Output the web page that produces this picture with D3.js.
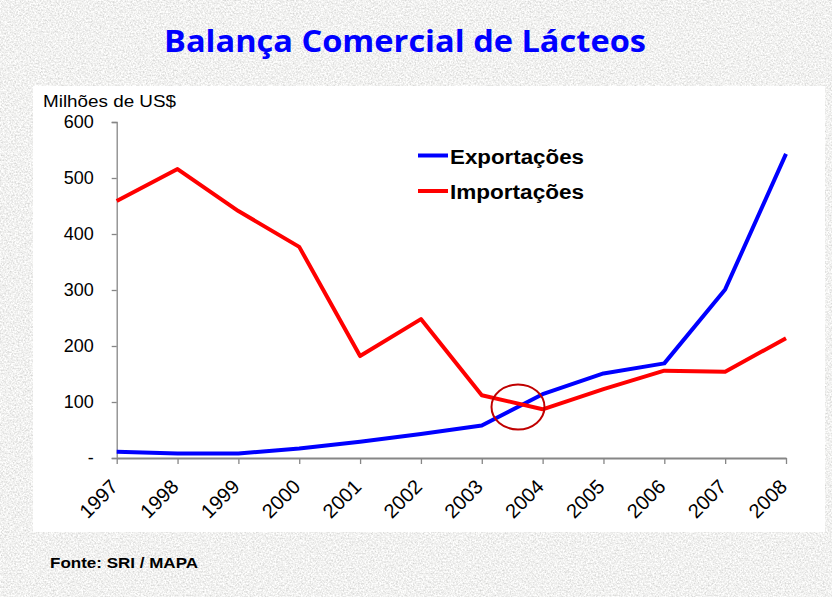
<!DOCTYPE html>
<html><head><meta charset="utf-8">
<script src="https://cdn.jsdelivr.net/npm/d3@7"></script>
<style>html,body{margin:0;padding:0;background:#dcdcda;}svg{display:block;}</style>
</head><body>
<script>
const years = ["1997","1998","1999","2000","2001","2002","2003","2004","2005","2006","2007","2008"];
const exportacoes = [11, 8, 8, 17, 29, 43, 58, 114, 151, 169, 301, 543];
const importacoes = [459, 516, 441, 377, 182, 248, 112, 87, 123, 156, 154, 214];
const yTicks = [0, 100, 200, 300, 400, 500, 600];
const seriesNames = ["Exportações", "Importações"];
const seriesColors = ["#0000ff", "#ff0000"];

const W = 832, H = 597;
const svg = d3.select("body").append("svg").attr("width", W).attr("height", H);

// textured background
const defs = svg.append("defs");
const f = defs.append("filter").attr("id","grain").attr("x",0).attr("y",0).attr("width","100%").attr("height","100%")
  .attr("filterUnits","userSpaceOnUse");
f.append("feTurbulence").attr("type","fractalNoise").attr("baseFrequency","0.6").attr("numOctaves",3).attr("seed",7).attr("result","n");
f.append("feColorMatrix").attr("in","n").attr("type","matrix")
 .attr("values","0.6 0 0 0 0.58  0.6 0 0 0 0.58  0.6 0 0 0 0.57  0 0 0 0 1");
svg.append("rect").attr("width",W).attr("height",H).attr("fill","#dcdcda");
svg.append("rect").attr("width",W).attr("height",H).attr("fill","#fff").attr("filter","url(#grain)");

// white panel
svg.append("rect").attr("x",33).attr("y",86).attr("width",792).attr("height",446).attr("fill","#ffffff");

// title
svg.append("text").attr("x",405).attr("y",52).attr("text-anchor","middle")
  .attr("font-family","'Open Sans', 'Noto Sans', sans-serif").attr("font-weight","bold")
  .attr("font-size",31).attr("fill","#0000ff")
  .attr("textLength",482).attr("lengthAdjust","spacingAndGlyphs")
  .text("Balança Comercial de Lácteos");

const x = d3.scalePoint().domain(years).range([116.7, 786]);
const y = d3.scaleLinear().domain([0, 600]).range([458, 122]);

// y axis
const yAxis = svg.append("g").attr("transform","translate(116.7,0)")
  .call(d3.axisLeft(y).tickValues(yTicks).tickSize(5).tickPadding(18)
        .tickFormat(d => d === 0 ? "-" : d));
yAxis.select(".domain").attr("stroke","#868686").attr("stroke-width",1.3);
yAxis.selectAll(".tick line").attr("stroke","#868686").attr("stroke-width",1.3);
yAxis.selectAll(".tick text").attr("font-family","'Liberation Sans', Arial, sans-serif")
  .attr("font-size",18).attr("fill","#000");

// x axis
const xAxis = svg.append("g").attr("transform","translate(0,458)")
  .call(d3.axisBottom(x).tickSize(6).tickSizeOuter(0));
xAxis.select(".domain").attr("stroke","#868686").attr("stroke-width",2);
xAxis.selectAll(".tick line").attr("stroke","#868686").attr("stroke-width",1.3);
xAxis.selectAll(".tick text").attr("font-family","'Liberation Sans', Arial, sans-serif")
  .attr("font-size",20).attr("fill","#000")
  .attr("text-anchor","end").attr("dy","0.35em").attr("y",0)
  .attr("transform","translate(-3,25) rotate(-45)");

// axis unit label
svg.append("text").attr("x",43).attr("y",107)
  .attr("font-family","'Liberation Sans', Arial, sans-serif").attr("font-size",16).attr("fill","#000")
  .attr("textLength",133).attr("lengthAdjust","spacingAndGlyphs")
  .text("Milhões de US$");

// lines
const line = d3.line().x((d,i) => x(years[i])).y(d => y(d));
[exportacoes, importacoes].forEach((s, k) => {
  svg.append("path").datum(s).attr("d", line).attr("fill","none")
    .attr("stroke", seriesColors[k]).attr("stroke-width",4).attr("stroke-linejoin","round");
});

// highlight circle
svg.append("ellipse").attr("cx",518).attr("cy",407).attr("rx",26.5).attr("ry",22.5)
  .attr("fill","none").attr("stroke","#c00000").attr("stroke-width",2);

// legend
seriesNames.forEach((n, k) => {
  const ly = 155.5 + k*35.5;
  svg.append("line").attr("x1",418).attr("x2",448).attr("y1",ly).attr("y2",ly)
    .attr("stroke",seriesColors[k]).attr("stroke-width",4);
  svg.append("text").attr("x",450).attr("y",ly+8)
    .attr("font-family","'Liberation Sans', Arial, sans-serif").attr("font-weight","bold")
    .attr("font-size",20).attr("fill","#000")
    .attr("textLength",134).attr("lengthAdjust","spacingAndGlyphs").text(n);
});

// source
svg.append("text").attr("x",50).attr("y",568)
  .attr("font-family","'Liberation Sans', Arial, sans-serif").attr("font-weight","bold")
  .attr("font-size",15).attr("fill","#000")
  .attr("textLength",148).attr("lengthAdjust","spacingAndGlyphs").text("Fonte: SRI / MAPA");
</script>
</body></html>
